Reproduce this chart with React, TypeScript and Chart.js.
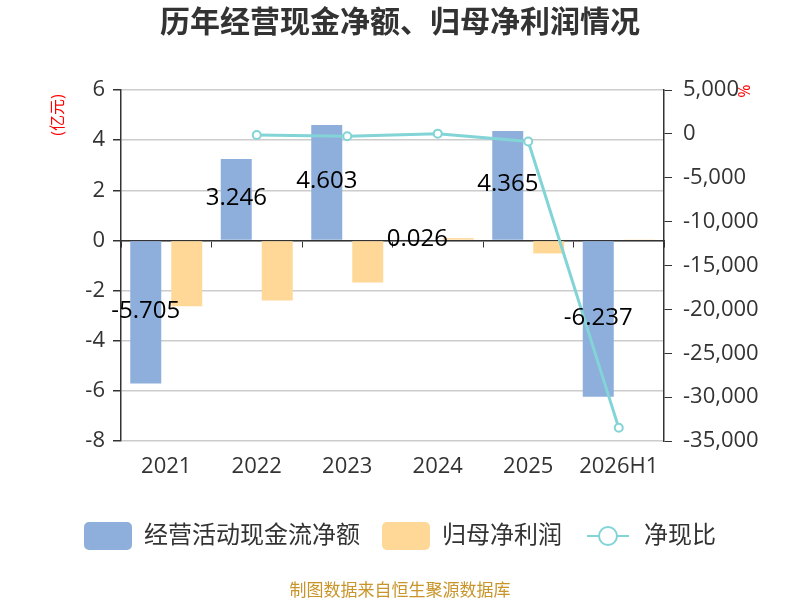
import React, { useEffect, useRef } from "react";
import { Chart, registerables } from "chart.js";

Chart.register(...registerables);

const categories = ["2021", "2022", "2023", "2024", "2025", "2026H1"];
const cashFlow = [-5.705, 3.246, 4.603, 0.026, 4.365, -6.237];
const netProfit = [-2.63, -2.4, -1.68, 0.09, -0.52, 0.02];
const cashRatio = [null, -135, -270, 26, -870, -33500];

const leftRange = { min: -8, max: 6, step: 2 };
const rightRange = { min: -35000, max: 5000, step: 5000 };

const BLUE = "#8eaedb";
const YELLOW = "#ffd898";
const TEAL = "#82d4d6";
const TEXT = "#333333";
const FONT = "'Open Sans', 'Noto Sans CJK SC', sans-serif";

function makeBox(color: string) {
  const c = document.createElement("canvas");
  c.width = 48;
  c.height = 28;
  const g = c.getContext("2d")!;
  g.fillStyle = color;
  g.beginPath();
  g.roundRect(0, 0, 48, 28, 5);
  g.fill();
  return c;
}

function makeLineMark(color: string) {
  const c = document.createElement("canvas");
  c.width = 48;
  c.height = 28;
  const g = c.getContext("2d")!;
  g.strokeStyle = color;
  g.lineWidth = 2;
  g.beginPath();
  g.moveTo(3, 14);
  g.lineTo(45, 14);
  g.stroke();
  g.fillStyle = "#fff";
  g.beginPath();
  g.arc(24, 14, 9, 0, Math.PI * 2);
  g.fill();
  g.stroke();
  return c;
}

// bar value labels + axis unit texts
const extrasPlugin = {
  id: "extras",
  afterDatasetsDraw(chart: any) {
    const ctx = chart.ctx;
    const area = chart.chartArea;
    ctx.save();
    ctx.font = `24px ${FONT}`;
    ctx.fillStyle = "#000";
    ctx.textAlign = "center";
    ctx.textBaseline = "middle";
    const meta = chart.getDatasetMeta(1);
    meta.data.forEach((bar: any, i: number) => {
      const { x, y, base } = bar.getProps(["x", "y", "base"], true);
      ctx.fillText(String(cashFlow[i]), x, (y + base) / 2 - 1);
    });

    ctx.fillStyle = "#ff0000";
    ctx.font = `16px ${FONT}`;
    ctx.save();
    ctx.translate(area.left - 63, area.top + 25);
    ctx.rotate(-Math.PI / 2);
    ctx.fillText("(亿元)", 0, 0);
    ctx.restore();
    ctx.save();
    ctx.translate(area.right + 79, area.top + 1);
    ctx.rotate(Math.PI / 2);
    ctx.fillText("%", 0, 0);
    ctx.restore();
    ctx.restore();
  },
};

export default function App() {
  const chartRef = useRef<HTMLCanvasElement | null>(null);
  const chartInstance = useRef<Chart | null>(null);

  useEffect(() => {
    document.body.style.margin = "0";
    if (!chartRef.current) return;
    if (chartInstance.current) chartInstance.current.destroy();

    const marks = [makeBox(BLUE), makeBox(YELLOW), makeLineMark(TEAL)];

    chartInstance.current = new Chart(chartRef.current, {
      type: "bar",
      data: {
        labels: categories,
        datasets: [
          {
            type: "line",
            label: "净现比",
            data: cashRatio,
            yAxisID: "y1",
            xAxisID: "x",
            borderColor: TEAL,
            borderWidth: 3,
            pointRadius: 4,
            pointBorderWidth: 2,
            pointBackgroundColor: "#fff",
            pointBorderColor: TEAL,
            spanGaps: false,
          } as any,
          {
            label: "经营活动现金流净额",
            data: cashFlow,
            backgroundColor: BLUE,
            yAxisID: "y",
            xAxisID: "x",
            categoryPercentage: 0.906,
            barPercentage: 0.756,
          },
          {
            label: "归母净利润",
            data: netProfit,
            backgroundColor: YELLOW,
            yAxisID: "y",
            xAxisID: "x",
            categoryPercentage: 0.906,
            barPercentage: 0.756,
          },
        ],
      },
      options: {
        responsive: false,
        animation: false,
        layout: { padding: 0 },
        font: { family: FONT },
        plugins: {
          title: {
            display: true,
            text: "历年经营现金净额、归母净利润情况",
            color: TEXT,
            font: { size: 30, weight: "bold", family: FONT },
            padding: { top: 5, bottom: 49 },
          },
          subtitle: {
            display: true,
            position: "bottom",
            text: "制图数据来自恒生聚源数据库",
            color: "#c9952a",
            font: { size: 17, family: FONT, lineHeight: 1 },
            padding: { top: 25, bottom: 0 },
          },
          legend: {
            position: "bottom",
            labels: {
              usePointStyle: true,
              pointStyleWidth: 48,
              padding: 22,
              color: TEXT,
              font: { size: 24, family: FONT },
              generateLabels: () =>
                [1, 2, 0].map((di, k) => ({
                  text: ["经营活动现金流净额", "归母净利润", "净现比"][k],
                  pointStyle: marks[k],
                  fillStyle: "transparent",
                  strokeStyle: "transparent",
                  lineWidth: 0,
                  hidden: false,
                  datasetIndex: di,
                  fontColor: TEXT,
                })) as any,
            },
          },
          tooltip: { enabled: false },
        },
        scales: {
          x: {
            type: "category",
            position: "bottom",
            offset: true,
            grid: { display: false, drawTicks: false, offset: true },
            border: { display: false },
            ticks: { color: TEXT, padding: 13, font: { size: 22, family: FONT } },
            afterFit: (s: any) => {
              s.height = 61;
            },
          },
          x2: {
            type: "category",
            labels: categories,
            position: { y: 0 } as any,
            offset: true,
            z: 1,
            grid: {
              offset: true,
              drawOnChartArea: false,
              drawTicks: true,
              tickLength: 6,
              tickColor: TEXT,
            },
            border: { display: true, color: TEXT, width: 1.5 },
            ticks: { display: false },
          },
          y: {
            type: "linear",
            position: "left",
            min: leftRange.min,
            max: leftRange.max,
            ticks: {
              stepSize: leftRange.step,
              color: TEXT,
              padding: 8,
              font: { size: 22, family: FONT },
            },
            grid: { color: "#cccccc", tickColor: TEXT, tickLength: 8, lineWidth: 1.5 },
            border: { display: true, color: TEXT, width: 1.5 },
            afterFit: (s: any) => {
              s.width = 121;
            },
          },
          y1: {
            type: "linear",
            position: "right",
            min: rightRange.min,
            max: rightRange.max,
            ticks: {
              stepSize: rightRange.step,
              color: TEXT,
              padding: 11,
              font: { size: 22, family: FONT },
              callback: (v: any) => Number(v).toLocaleString("en-US"),
            },
            grid: { drawOnChartArea: false, tickColor: TEXT, tickLength: 8 },
            border: { display: true, color: TEXT, width: 1.5 },
            afterFit: (s: any) => {
              s.width = 136;
            },
          },
        },
      },
      plugins: [extrasPlugin],
    });

    return () => {
      if (chartInstance.current) {
        chartInstance.current.destroy();
        chartInstance.current = null;
      }
    };
  }, []);

  return (
    <div style={{ width: 800, height: 600 }}>
      <canvas ref={chartRef} width={800} height={600} />
    </div>
  );
}
